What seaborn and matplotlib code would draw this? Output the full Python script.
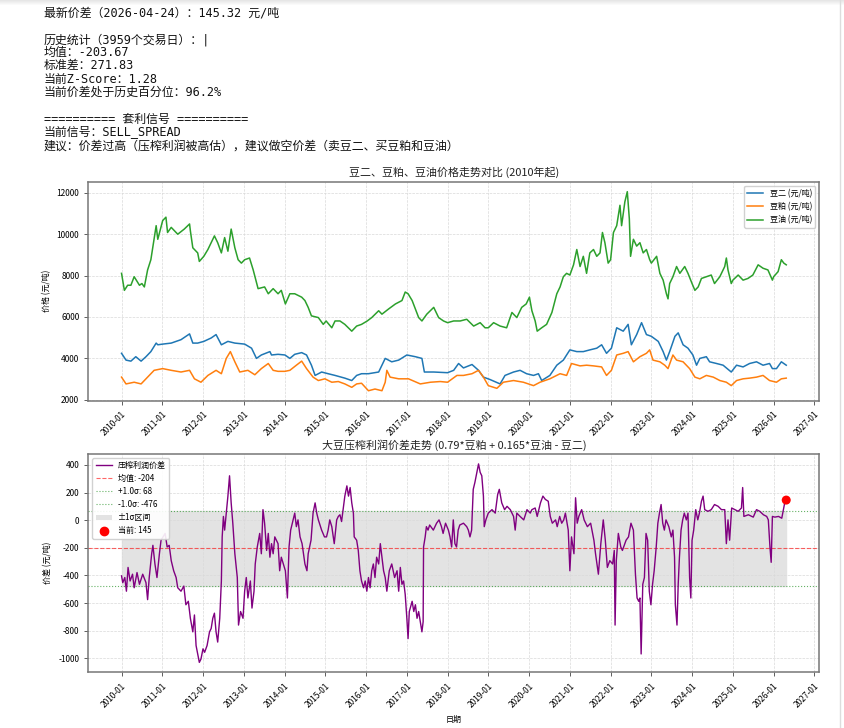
import numpy as np
import pandas as pd
import seaborn as sns
import matplotlib.pyplot as plt
import matplotlib.dates as mdates
from matplotlib.patches import Patch
from matplotlib.lines import Line2D

# ---- price series (decimal year, yuan/ton) ----
bean_t = [2010.00, 2010.11, 2010.23, 2010.35, 2010.48, 2010.60, 2010.72, 2010.85, 2010.89, 2011.01,
          2011.22, 2011.46, 2011.67, 2011.75, 2011.87, 2012.02, 2012.20, 2012.32, 2012.45, 2012.61,
          2012.78, 2013.02, 2013.19, 2013.31, 2013.43, 2013.64, 2013.68, 2013.84, 2014.01, 2014.13,
          2014.25, 2014.42, 2014.54, 2014.66, 2014.75, 2014.91, 2015.07, 2015.24, 2015.48, 2015.65,
          2015.77, 2015.89, 2016.06, 2016.31, 2016.47, 2016.63, 2016.80, 2017.00, 2017.21, 2017.37,
          2017.43, 2017.66, 2018.00, 2018.15, 2018.27, 2018.39, 2018.60, 2018.76, 2018.88, 2019.04,
          2019.29, 2019.41, 2019.62, 2019.78, 2019.94, 2020.11, 2020.23, 2020.31, 2020.51, 2020.68,
          2020.84, 2021.00, 2021.17, 2021.33, 2021.49, 2021.66, 2021.78, 2021.90, 2022.02, 2022.15,
          2022.31, 2022.43, 2022.51, 2022.64, 2022.76, 2022.88, 2023.00, 2023.17, 2023.29, 2023.37,
          2023.45, 2023.58, 2023.66, 2023.78, 2023.90, 2024.02, 2024.11, 2024.19, 2024.35, 2024.43,
          2024.60, 2024.76, 2024.96, 2025.09, 2025.25, 2025.41, 2025.58, 2025.74, 2025.90, 2025.97,
          2026.07, 2026.19, 2026.31]
bean_v = [4240, 3911, 3861, 4075, 3861, 4075, 4322, 4734, 4652, 4685,
          4734, 4899, 5179, 4734, 4734, 4816, 4981, 5146, 4652, 4816,
          4734, 4685, 4487, 3993, 4158, 4322, 4158, 4191, 4158, 3993,
          4191, 4273, 4158, 3664, 3169, 3334, 3252, 3169, 3038, 2922,
          3169, 3252, 3252, 3334, 3993, 3828, 3911, 4158, 4075, 3993,
          3334, 3334, 3301, 3416, 3746, 3532, 3697, 3416, 3087, 2972,
          2758, 3169, 3334, 3416, 3252, 3169, 3252, 2922, 3169, 3664,
          3911, 4405, 4322, 4322, 4405, 4487, 4652, 4240, 4487, 5475,
          5311, 5640, 4652, 5146, 5722, 5146, 5063, 4816, 4322, 3911,
          4322, 5063, 5229, 4652, 4487, 4158, 3664, 3993, 4075, 3828,
          3746, 3664, 3334, 3664, 3581, 3746, 3828, 3664, 3746, 3499,
          3499, 3828, 3664]

meal_t = [2010.00, 2010.11, 2010.31, 2010.48, 2010.64, 2010.80, 2011.01, 2011.22, 2011.46, 2011.67,
          2011.79, 2011.95, 2012.12, 2012.32, 2012.45, 2012.57, 2012.67, 2012.78, 2012.90, 2013.10,
          2013.27, 2013.43, 2013.60, 2013.72, 2013.84, 2014.01, 2014.13, 2014.29, 2014.42, 2014.54,
          2014.70, 2014.83, 2014.99, 2015.16, 2015.32, 2015.48, 2015.65, 2015.77, 2015.89, 2016.06,
          2016.22, 2016.39, 2016.47, 2016.51, 2016.59, 2016.80, 2017.04, 2017.33, 2017.58, 2017.82,
          2018.00, 2018.23, 2018.39, 2018.60, 2018.76, 2018.88, 2019.00, 2019.21, 2019.37, 2019.62,
          2019.86, 2020.11, 2020.27, 2020.51, 2020.76, 2020.92, 2021.04, 2021.25, 2021.41, 2021.58,
          2021.78, 2021.90, 2022.02, 2022.15, 2022.31, 2022.43, 2022.56, 2022.72, 2022.88, 2022.96,
          2023.04, 2023.21, 2023.33, 2023.41, 2023.53, 2023.62, 2023.78, 2023.94, 2024.07, 2024.19,
          2024.35, 2024.52, 2024.68, 2024.84, 2024.96, 2025.09, 2025.25, 2025.41, 2025.58, 2025.74,
          2025.90, 2026.07, 2026.19, 2026.31]
meal_v = [3087, 2758, 2840, 2758, 3087, 3416, 3499, 3416, 3334, 3416,
          3005, 2840, 3169, 3416, 3252, 3993, 4322, 3828, 3334, 3416,
          3202, 3499, 3746, 3416, 3367, 3367, 3416, 3664, 3861, 3499,
          3087, 2922, 3005, 2840, 2873, 2758, 2593, 2758, 2791, 2428,
          2511, 2428, 2840, 3416, 3087, 3005, 3005, 2758, 2840, 2873,
          2840, 3169, 3169, 3252, 3416, 3087, 2675, 2544, 2840, 2922,
          2840, 2675, 2840, 3005, 3252, 3169, 3746, 3631, 3664, 3631,
          3581, 3169, 3416, 4158, 4240, 4322, 3828, 4075, 4240, 4405,
          3911, 3828, 3664, 3499, 4158, 3911, 3828, 3499, 3087, 3005,
          3169, 3087, 2922, 2840, 2675, 2922, 3005, 3038, 3087, 3169,
          2922, 2840, 3005, 3038]

oil_t = [2010.00, 2010.07, 2010.15, 2010.23, 2010.31, 2010.44, 2010.50, 2010.56, 2010.64, 2010.72,
         2010.85, 2010.89, 2011.01, 2011.09, 2011.13, 2011.22, 2011.38, 2011.54, 2011.67, 2011.69,
         2011.75, 2011.87, 2011.91, 2012.02, 2012.12, 2012.28, 2012.36, 2012.45, 2012.53, 2012.61,
         2012.69, 2012.78, 2012.86, 2012.94, 2013.02, 2013.14, 2013.23, 2013.35, 2013.51, 2013.60,
         2013.72, 2013.84, 2013.92, 2014.02, 2014.13, 2014.25, 2014.42, 2014.50, 2014.58, 2014.66,
         2014.83, 2014.95, 2015.02, 2015.16, 2015.24, 2015.36, 2015.48, 2015.65, 2015.77, 2015.89,
         2016.03, 2016.14, 2016.31, 2016.39, 2016.55, 2016.72, 2016.88, 2016.96, 2017.03, 2017.13,
         2017.29, 2017.37, 2017.49, 2017.66, 2017.78, 2017.90, 2018.00, 2018.15, 2018.31, 2018.47,
         2018.64, 2018.80, 2018.92, 2019.00, 2019.13, 2019.29, 2019.45, 2019.58, 2019.70, 2019.82,
         2019.93, 2020.01, 2020.07, 2020.15, 2020.20, 2020.31, 2020.43, 2020.56, 2020.68, 2020.76,
         2020.84, 2020.92, 2021.00, 2021.09, 2021.17, 2021.25, 2021.33, 2021.41, 2021.49, 2021.58,
         2021.66, 2021.74, 2021.80, 2021.86, 2021.94, 2022.00, 2022.07, 2022.15, 2022.23, 2022.27,
         2022.35, 2022.41, 2022.46, 2022.49, 2022.56, 2022.64, 2022.72, 2022.80, 2022.88, 2022.96,
         2023.00, 2023.13, 2023.21, 2023.29, 2023.37, 2023.41, 2023.45, 2023.53, 2023.62, 2023.70,
         2023.82, 2023.90, 2024.00, 2024.07, 2024.15, 2024.23, 2024.35, 2024.47, 2024.55, 2024.68,
         2024.80, 2024.84, 2024.88, 2024.96, 2025.00, 2025.13, 2025.25, 2025.37, 2025.49, 2025.62,
         2025.74, 2025.86, 2025.97, 2026.00, 2026.11, 2026.19, 2026.25, 2026.31]
oil_v = [8110, 7287, 7534, 7534, 7946, 7534, 7616, 7452, 8275, 8769,
         10417, 9757, 10663, 10828, 10087, 10334, 10004, 10252, 10499, 10169,
         9346, 9099, 8687, 8934, 9263, 9922, 9593, 9099, 9840, 9181,
         10252, 9346, 8769, 8605, 8769, 8852, 8275, 7369, 7452, 7122,
         7369, 7122, 7287, 6628, 7122, 7122, 6957, 6793, 6463, 6052,
         5969, 5640, 5805, 5475, 5805, 5805, 5640, 5311, 5558, 5640,
         5805, 5969, 6299, 6134, 6381, 6628, 6793, 7205, 7122, 6793,
         5969, 5805, 6134, 6463, 5969, 5805, 5722, 5805, 5805, 5887,
         5558, 5722, 5475, 5475, 5722, 5558, 5475, 6216, 5969, 6463,
         6628, 6957, 6299, 5805, 5311, 5475, 5640, 6216, 7122, 7452,
         7946, 8110, 8028, 8522, 9263, 8440, 8934, 8110, 9099, 9263,
         8934, 9099, 10087, 9593, 8605, 8769, 10087, 10417, 11404, 10417,
         11569, 12063, 10746, 8934, 9757, 9428, 9593, 9099, 9263, 8769,
         8605, 8934, 8110, 7781, 7122, 6875, 7616, 7946, 8440, 8110,
         8440, 8110, 7616, 7287, 7452, 7863, 7946, 8028, 7616, 7946,
         8440, 8852, 8275, 7616, 7781, 8028, 7781, 7863, 8028, 8522,
         8357, 8275, 7781, 7946, 8193, 8769, 8605, 8522]

# ---- crush spread series (0.79*meal + 0.165*oil - bean2) ----
spread_t = [2010.00, 2010.03, 2010.08, 2010.12, 2010.16, 2010.21, 2010.27, 2010.31, 2010.38, 2010.44,
            2010.52, 2010.60, 2010.64, 2010.68, 2010.74, 2010.77, 2010.82, 2010.87, 2010.93, 2010.97,
            2011.02, 2011.07, 2011.12, 2011.17, 2011.22, 2011.28, 2011.34, 2011.38, 2011.46, 2011.53,
            2011.58, 2011.64, 2011.69, 2011.75, 2011.79, 2011.83, 2011.87, 2011.91, 2011.95, 2012.00,
            2012.04, 2012.10, 2012.16, 2012.20, 2012.24, 2012.28, 2012.32, 2012.36, 2012.41, 2012.45,
            2012.47, 2012.50, 2012.53, 2012.57, 2012.61, 2012.65, 2012.69, 2012.73, 2012.78, 2012.84,
            2012.87, 2012.92, 2012.98, 2013.02, 2013.06, 2013.10, 2013.16, 2013.20, 2013.25, 2013.28,
            2013.33, 2013.39, 2013.43, 2013.47, 2013.51, 2013.56, 2013.60, 2013.64, 2013.68, 2013.72,
            2013.76, 2013.84, 2013.88, 2013.92, 2013.97, 2014.02, 2014.07, 2014.11, 2014.15, 2014.21,
            2014.25, 2014.29, 2014.33, 2014.38, 2014.43, 2014.50, 2014.55, 2014.58, 2014.65, 2014.70,
            2014.75, 2014.79, 2014.83, 2014.91, 2014.98, 2015.03, 2015.07, 2015.11, 2015.16, 2015.22,
            2015.28, 2015.32, 2015.36, 2015.40, 2015.48, 2015.53, 2015.57, 2015.61, 2015.65, 2015.69,
            2015.71, 2015.77, 2015.81, 2015.85, 2015.89, 2015.94, 2015.98, 2016.02, 2016.06, 2016.10,
            2016.14, 2016.18, 2016.22, 2016.26, 2016.31, 2016.35, 2016.39, 2016.43, 2016.47, 2016.51,
            2016.57, 2016.63, 2016.70, 2016.76, 2016.80, 2016.84, 2016.88, 2016.92, 2016.96, 2017.00,
            2017.03, 2017.06, 2017.13, 2017.17, 2017.21, 2017.25, 2017.29, 2017.33, 2017.37, 2017.40,
            2017.41, 2017.45, 2017.48, 2017.52, 2017.56, 2017.65, 2017.73, 2017.79, 2017.85, 2017.89,
            2017.95, 2018.02, 2018.06, 2018.10, 2018.14, 2018.18, 2018.22, 2018.26, 2018.30, 2018.39,
            2018.47, 2018.51, 2018.55, 2018.59, 2018.63, 2018.67, 2018.72, 2018.76, 2018.80, 2018.84,
            2018.88, 2018.90, 2018.94, 2019.00, 2019.09, 2019.17, 2019.23, 2019.27, 2019.33, 2019.40,
            2019.46, 2019.54, 2019.62, 2019.66, 2019.70, 2019.78, 2019.87, 2019.95, 2020.03, 2020.07,
            2020.15, 2020.20, 2020.28, 2020.34, 2020.40, 2020.47, 2020.52, 2020.57, 2020.65, 2020.69,
            2020.75, 2020.80, 2020.85, 2020.89, 2020.96, 2021.00, 2021.04, 2021.10, 2021.14, 2021.18,
            2021.22, 2021.29, 2021.35, 2021.43, 2021.51, 2021.59, 2021.63, 2021.70, 2021.76, 2021.82,
            2021.87, 2021.92, 2021.98, 2022.05, 2022.09, 2022.11, 2022.14, 2022.19, 2022.25, 2022.29,
            2022.38, 2022.44, 2022.50, 2022.56, 2022.61, 2022.65, 2022.69, 2022.72, 2022.75, 2022.79,
            2022.83, 2022.87, 2022.91, 2022.95, 2022.99, 2023.03, 2023.07, 2023.12, 2023.16, 2023.20,
            2023.24, 2023.28, 2023.32, 2023.36, 2023.43, 2023.49, 2023.53, 2023.57, 2023.59, 2023.63,
            2023.66, 2023.69, 2023.73, 2023.77, 2023.81, 2023.86, 2023.90, 2023.94, 2023.97, 2024.00,
            2024.04, 2024.09, 2024.14, 2024.18, 2024.23, 2024.27, 2024.31, 2024.39, 2024.47, 2024.55,
            2024.64, 2024.72, 2024.80, 2024.84, 2024.88, 2024.92, 2024.97, 2025.05, 2025.13, 2025.21,
            2025.24, 2025.27, 2025.38, 2025.50, 2025.58, 2025.66, 2025.75, 2025.83, 2025.87, 2025.91,
            2025.94, 2025.97, 2026.03, 2026.12, 2026.20, 2026.24, 2026.28, 2026.31]
spread_v = [-403, -452, -415, -514, -342, -440, -391, -489, -379, -464,
            -391, -452, -575, -415, -243, -182, -317, -415, -243, -145,
            -121, -96, -194, -182, -293, -366, -415, -489, -514, -477,
            -612, -587, -710, -808, -686, -907, -968, -1029, -1005, -931,
            -956, -907, -808, -784, -710, -673, -808, -882, -710, -440,
            -121, 27, -72, 51, 174, 321, 125, -22, -243, -415,
            -759, -661, -710, -514, -415, -563, -440, -636, -514, -317,
            -194, -96, -243, 76, -22, -219, -96, -268, -170, -243,
            -121, -170, -366, -268, -317, -366, -563, -194, -72, 2,
            51, -47, 2, -121, -170, -317, -366, -243, -145, 51,
            125, 51, 2, -72, -121, -121, -72, 2, -47, -170,
            2, 27, 39, -10, 174, 248, 174, 236, 125, 51,
            -121, -145, -219, -366, -440, -489, -440, -514, -415, -489,
            -366, -317, -415, -268, -317, -170, -268, -366, -415, -514,
            -366, -317, -415, -366, -514, -342, -464, -440, -538, -710,
            -857, -661, -587, -661, -612, -710, -661, -735, -808, -735,
            -194, -121, -47, -72, -35, -72, -22, 2, -47, -96,
            -22, -72, -121, -194, 2, -170, -194, -72, -35, -22,
            -47, -72, -121, -72, 223, 272, 346, 407, 346, 321,
            174, -47, 2, 51, 76, 51, 186, 223, 125, 76,
            100, 76, 27, -72, 51, 27, 2, 76, 51, 76,
            88, 27, 125, 174, 150, 137, 27, -22, 2, -47,
            27, -22, 2, 51, -72, -366, -121, -243, 162, -22,
            27, 76, 2, -47, -22, -145, -243, -391, -170, 2,
            -145, -342, -293, -317, -219, -759, -293, -96, -194, -219,
            -145, -121, -22, -72, -391, -563, -587, -563, -968, -464,
            -415, -96, -145, -514, -612, -464, -366, -194, -22, 51,
            113, -22, -72, 2, -47, -121, -72, -268, -612, -759,
            -464, -268, -72, 2, 51, 2, 51, -415, -563, -145,
            -72, 76, 2, 51, 137, 174, 76, 64, 76, 113,
            100, 76, 76, -170, 2, -145, 88, 76, 64, 88,
            236, 27, 39, 22, 76, 64, 39, 27, 2, -194,
            -305, 27, 22, 27, 14, 76, 137, 145.32]

spread_mean = -203.67
spread_std = 271.83
last_date = "2026-04-24"

info_lines = [
    "最新价差（2026-04-24）：145.32 元/吨",
    "",
    "历史统计（3959个交易日）：|",
    "均值：-203.67",
    "标准差：271.83",
    "当前Z-Score：1.28",
    "当前价差处于历史百分位：96.2%",
    "",
    "========== 套利信号 ==========",
    "当前信号：SELL_SPREAD",
    "建议：价差过高（压榨利润被高估），建议做空价差（卖豆二、买豆粕和豆油）",
]


def to_dates(years):
    out = []
    for y in years:
        base = pd.Timestamp(year=int(y), month=1, day=1)
        days = 366 if pd.Timestamp(year=int(y), month=12, day=31).dayofyear == 366 else 365
        out.append(base + pd.Timedelta(days=(y - int(y)) * days))
    return pd.to_datetime(out)


CJK = ["Noto Sans CJK SC", "DejaVu Sans"]
plt.rcParams["font.family"] = CJK
plt.rcParams["axes.unicode_minus"] = False

fig = plt.figure(figsize=(8.45, 7.28), dpi=100)

# notebook-ish output text above the figure
line_y = [13, 27, 40, 52.5, 65.5, 79, 92, 105.5, 119, 132, 146]
for txt, yy in zip(info_lines, line_y):
    if txt:
        fig.text(44 / 845, 1 - yy / 728, txt, fontsize=8.6, va="center", ha="left",
                 family=["DejaVu Sans Mono", "Noto Sans CJK SC"], color="#111111")

# faint top shadow and right frame edge
grad = np.linspace(0.9, 1.0, 6).reshape(-1, 1)
sh = fig.add_axes([0, 1 - 6 / 728, 1, 6 / 728])
sh.imshow(grad, aspect="auto", cmap="gray", vmin=0, vmax=1)
sh.axis("off")
fig.add_artist(Line2D([840 / 845, 840 / 845], [0, 1], color="#dddddd", lw=1))

ax1 = fig.add_axes([0.1045, 0.4496, 0.8653, 0.3008])
ax2 = fig.add_axes([0.1045, 0.0765, 0.8653, 0.2999])

tick_fs = 6.0
grid_kw = dict(color="#d9d9d9", linestyle="--", linewidth=0.5)

# ---- top: prices ----
sns.lineplot(x=to_dates(bean_t), y=bean_v, ax=ax1, color="#1f77b4", lw=1.1, label="豆二 (元/吨)")
sns.lineplot(x=to_dates(meal_t), y=meal_v, ax=ax1, color="#ff7f0e", lw=1.1, label="豆粕 (元/吨)")
sns.lineplot(x=to_dates(oil_t), y=oil_v, ax=ax1, color="#2ca02c", lw=1.1, label="豆油 (元/吨)")
ax1.set_title("豆二、豆粕、豆油价格走势对比 (2010年起)", fontsize=7.9, pad=4, color="#222222")
ax1.set_ylabel("价格 (元/吨)", fontsize=5.8)
ax1.set_xlabel("")
ax1.legend(loc="upper right", fontsize=5.8, framealpha=0.9, edgecolor="#cccccc")

# ---- bottom: spread ----
sd = to_dates(spread_t)
up = spread_mean + spread_std
dn = spread_mean - spread_std
ax2.fill_between(sd, dn, up, color="#e3e3e3", zorder=0)
sns.lineplot(x=sd, y=spread_v, ax=ax2, color="purple", lw=1.0, zorder=3)
ax2.axhline(spread_mean, color="red", ls="--", lw=0.8, alpha=0.6)
ax2.axhline(up, color="green", ls=":", lw=0.8, alpha=0.6)
ax2.axhline(dn, color="green", ls=":", lw=0.8, alpha=0.6)
sns.scatterplot(x=[pd.Timestamp(last_date)], y=[spread_v[-1]], ax=ax2, color="red",
                s=42, edgecolor="none", zorder=5)
ax2.set_title("大豆压榨利润价差走势 (0.79*豆粕 + 0.165*豆油 - 豆二)", fontsize=7.9, pad=4, color="#222222")
ax2.set_ylabel("价差 (元/吨)", fontsize=5.8)
ax2.set_xlabel("日期", fontsize=5.8)

handles = [
    Line2D([], [], color="purple", lw=1.0),
    Line2D([], [], color="red", ls="--", lw=0.8, alpha=0.6),
    Line2D([], [], color="green", ls=":", lw=0.8, alpha=0.6),
    Line2D([], [], color="green", ls=":", lw=0.8, alpha=0.6),
    Patch(facecolor="#e3e3e3", edgecolor="none"),
    Line2D([], [], color="red", marker="o", ls="none", markersize=6),
]
labels = [
    "压榨利润价差",
    f"均值: {spread_mean:.0f}",
    f"+1.0σ: {up:.0f}",
    f"-1.0σ: {dn:.0f}",
    "±1σ区间",
    f"当前: {spread_v[-1]:.0f}",
]
ax2.legend(handles, labels, loc="upper left", fontsize=5.8, framealpha=0.9, edgecolor="#cccccc")

for ax in (ax1, ax2):
    ax.grid(True, **grid_kw)
    ax.set_axisbelow(True)
    ax.xaxis.set_major_locator(mdates.YearLocator())
    ax.xaxis.set_major_formatter(mdates.DateFormatter("%Y-%m"))
    ax.tick_params(labelsize=tick_fs, length=3, width=0.6, color="#444444")
    for lab in ax.get_xticklabels():
        lab.set_rotation(45)
        lab.set_ha("right")
        lab.set_rotation_mode("anchor")
    for s in ax.spines.values():
        s.set_color("#777777")
        s.set_linewidth(1.1)

fig.savefig("out.png", dpi=100)
